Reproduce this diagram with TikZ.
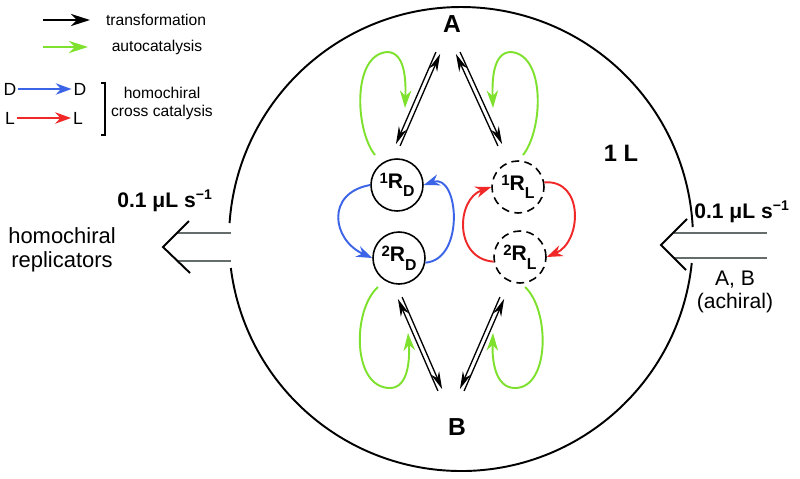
\documentclass[tikz,border=0pt]{standalone}
\usepackage{fontspec}
\setmainfont{Liberation Sans}
\usepackage{xcolor}
\definecolor{autogreen}{RGB}{125,225,45}
\definecolor{dblue}{RGB}{60,100,230}
\definecolor{lred}{RGB}{240,40,40}
\definecolor{flowgray}{RGB}{100,108,108}
\usetikzlibrary{arrows.meta,positioning,calc}

% replicator label: superscript number, R, subscript chirality
\newcommand{\rep}[2]{\raisebox{2.8pt}{\fontsize{8.5}{8.5}\selectfont #1}R\raisebox{-5pt}{\fontsize{9}{9}\selectfont #2}}
% pair of opposite transformation arrows, #3 = angle towards the outer line
\newcommand{\eqpair}[3]{%
  \draw[trans] ($(#1)!1.3pt!#3:(#2)$) -- ($(#2)!1.3pt!-#3:(#1)$);
  \draw[trans] ($(#2)!1.3pt!#3:(#1)$) -- ($(#1)!1.3pt!-#3:(#2)$);}

\begin{document}
\begin{tikzpicture}[x=0.02cm,y=-0.02cm,
    ring/.style={line width=1.1pt},
    trans/.style={line width=0.75pt,-{Stealth[length=10pt,width=5pt]}},
    autoc/.style={draw=autogreen,line width=1.1pt,-{Stealth[length=10pt,width=6.5pt]}},
    cross/.style={line width=1.1pt,-{Stealth[length=9pt,width=6.5pt]}},
    repD/.style={circle,draw,line width=0.9pt,minimum size=1.04cm,inner sep=0pt,
                 font=\fontsize{12}{12}\selectfont\bfseries},
    repL/.style={repD,dash pattern=on 4.5pt off 3pt},
    flow/.style={draw=flowgray,line width=1.1pt},
    chev/.style={line width=1.1pt,line join=miter},
    legtext/.style={font=\fontsize{8.9}{10.2}\selectfont},
    leglet/.style={font=\fontsize{10}{10}\selectfont,inner sep=1pt}]
  \useasboundingbox (0,0) rectangle (800,478);

  % legend
  \coordinate (k1s) at (43,20);
  \coordinate (k1e) at (90,20);
  \coordinate (k2s) at (43,47);
  \coordinate (k2e) at (88,47);
  \draw[line width=1.1pt,-{Stealth[length=11pt,width=7pt]}] (k1s) -- (k1e);
  \draw[draw=autogreen,line width=1.1pt,-{Stealth[length=11pt,width=7pt]}] (k2s) -- (k2e);
  \node[legtext] (ktrans) at (156,20) {transformation};
  \node[legtext] (kauto) at (157,47) {autocatalysis};
  \node[leglet] (kD1) at (10,89) {D};
  \node[leglet] (kD2) at (80,89) {D};
  \node[leglet] (kL1) at (10,118) {L};
  \node[leglet] (kL2) at (78,118) {L};
  \draw[draw=dblue,cross] (kD1) -- (kD2);
  \draw[draw=lred,cross] (kL1) -- (kL2);
  \draw[line width=0.9pt] (101,83) -- (105,83) -- (105,135) -- (101,135);
  \node[legtext,align=center] (kcross) at (162,103) {homochiral\\cross catalysis};

  % reactor
  \coordinate (cen) at (461,239);
  \draw[ring] ($(cen)+(-2.96:232)$) arc[start angle=-2.96,end angle=-176.05,radius=232];
  \draw[ring] ($(cen)+(5.94:232)$) arc[start angle=5.94,end angle=172.82,radius=232];
  \node[font=\fontsize{13.5}{13.5}\selectfont\bfseries] (vol) at (621,153) {1 L};

  \node[font=\fontsize{14}{14}\selectfont\bfseries] (A) at (452,24) {A};
  \node[font=\fontsize{14}{14}\selectfont\bfseries] (B) at (457,427) {B};

  \node[repD] (R1D) at (397,185) {\rep{1}{D}};
  \node[repD] (R2D) at (399,258) {\rep{2}{D}};
  \node[repL] (R1L) at (518,187) {\rep{1}{L}};
  \node[repL] (R2L) at (520,257) {\rep{2}{L}};

  % transformations
  \coordinate (tA1) at (438,53);  \coordinate (tR1) at (398,145);
  \coordinate (tA2) at (458,53);  \coordinate (tR2) at (500,145);
  \coordinate (tB1) at (440,390); \coordinate (tR3) at (400,298);
  \coordinate (tB2) at (462,390); \coordinate (tR4) at (502,298);
  \eqpair{tA1}{tR1}{270}
  \eqpair{tA2}{tR2}{90}
  \eqpair{tB1}{tR3}{90}
  \eqpair{tB2}{tR4}{270}

  % autocatalysis
  \coordinate (g1) at (405,108);
  \coordinate (g2) at (493,108);
  \coordinate (g3) at (408,333);
  \coordinate (g4) at (493,333);
  \draw[autoc] (375,155) .. controls (355,130) and (352,55) .. (387,52)
    .. controls (405,52) and (406,80) .. (g1);
  \draw[autoc] (523,155) .. controls (543,130) and (546,55) .. (511,52)
    .. controls (493,52) and (492,80) .. (g2);
  \draw[autoc] (378,287) .. controls (352,310) and (352,388) .. (390,388)
    .. controls (408,388) and (410,360) .. (g3);
  \draw[autoc] (525,287) .. controls (550,310) and (550,388) .. (515,388)
    .. controls (495,388) and (492,360) .. (g4);

  % cross catalysis
  \draw[draw=dblue,cross] (R1D.west) .. controls +(-45,8) and +(-40,-18) .. (R2D.west);
  \draw[draw=dblue,cross] (R2D.-10) .. controls +(40,-3) and +(35,-12) .. (R1D.east);
  \draw[draw=lred,cross] (R2L.190) .. controls +(-40,-3) and +(-35,12) .. (R1L.west);
  \draw[draw=lred,cross] (R1L.10) .. controls +(40,-3) and +(35,-15) .. (R2L.east);

  % outflow
  \coordinate (outtip) at (163,247);
  \draw[flow] (177,233) -- (231,233);
  \draw[flow] (177,261) -- (231,261);
  \draw[chev] (189,221) -- (outtip) -- (190,273);
  \node[font=\fontsize{12}{12}\selectfont\bfseries] (outrate) at (165,201) {0.1 μL s\textsuperscript{−1}};
  \node[font=\fontsize{12.5}{13.5}\selectfont,align=center] (outtext) at (62,250) {homochiral\\replicators};

  % inflow
  \coordinate (intip) at (661,245);
  \draw[flow] (674,233) -- (767,233);
  \draw[flow] (674,258) -- (767,258);
  \draw[chev] (687,219) -- (intip) -- (686,270);
  \node[font=\fontsize{12}{12}\selectfont\bfseries] (inrate) at (742,212) {0.1 μL s\textsuperscript{−1}};
  \node[font=\fontsize{12}{13}\selectfont,align=center] (intext) at (735,292) {A, B\\(achiral)};
\end{tikzpicture}
\end{document}
